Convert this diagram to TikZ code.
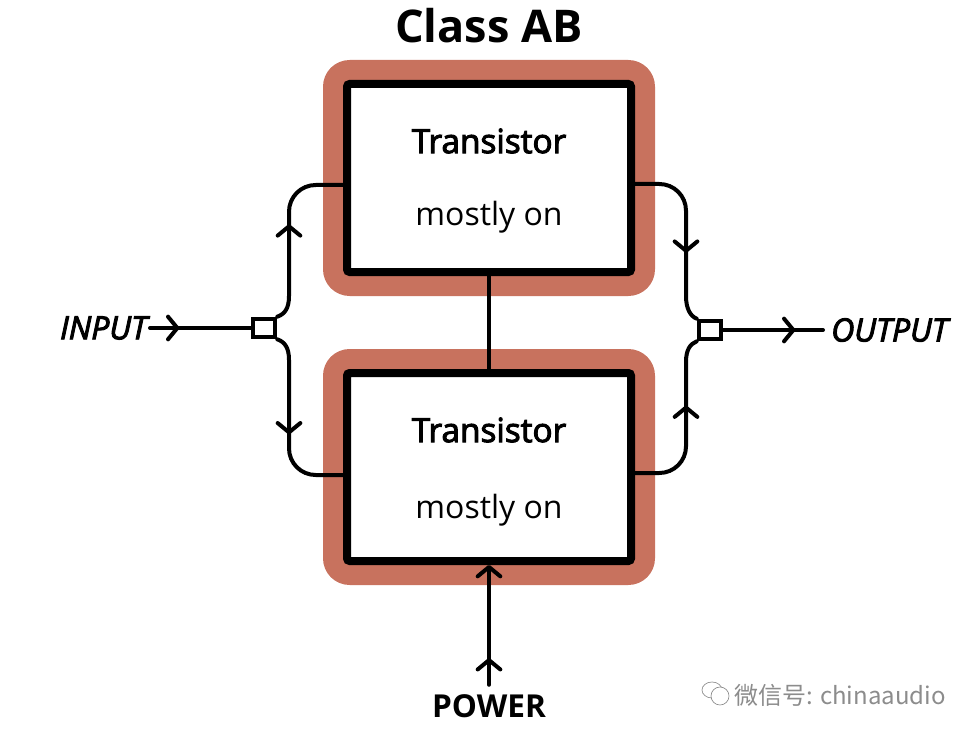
\documentclass[tikz,border=0pt]{standalone}
\usepackage{fontspec}
\setmainfont{Open Sans}
\newfontfamily\cjkfont{Noto Sans CJK SC}
\newfontfamily\semifont[FakeBold=3]{Open Sans}
\usetikzlibrary{arrows.meta,decorations.markings}
\definecolor{brick}{HTML}{C8725E}
\tikzset{
  glow/.style={fill=brick,minimum width=249pt,minimum height=177pt,rounded corners=20pt},
  ampbox/.style={draw,fill=white,line width=6pt,minimum width=213pt,minimum height=141pt,rounded corners=2pt},
  wire/.style={line width=3pt,line cap=round},
  tipat/.style={postaction={decorate,decoration={markings,mark=at position #1 with {\arrow{>}}}}},
  joint/.style={draw,fill=white,line width=3pt,minimum width=17pt,minimum height=14pt,inner sep=0pt},
  >={Straight Barb[length=7pt,width=17pt,round]},
  boxtitle/.style={font=\fontsize{25}{25}\semifont},
  boxtext/.style={font=\fontsize{24}{24}\selectfont},
  portname/.style={font=\fontsize{24}{24}\semifont\itshape,inner sep=0pt},
}
\begin{document}
\begin{tikzpicture}[x=.75pt,y=-.75pt]
\useasboundingbox (0,0) rectangle (978,738);

\node[font=\fontsize{33.8}{34}\selectfont\bfseries] (title) at (489,26) {Class AB};

\node[glow] (topglow) at (489,178) {};
\node[glow] (lowglow) at (489,467) {};
\node[ampbox] (topbox) at (489,178) {};
\node[ampbox] (lowbox) at (489,467) {};

\node[boxtitle] (toptitle) at (489,141) {Transistor};
\node[boxtext] (toptext) at (489,217) {mostly on};
\node[boxtitle] (lowtitle) at (489,430) {Transistor};
\node[boxtext] (lowtext) at (489,510) {mostly on};

\node[portname,anchor=east,inner xsep=2pt] (inputlabel) at (150,328) {INPUT};
\node[portname,anchor=west,inner xsep=6pt] (outputlabel) at (823,330) {OUTPUT};
\node[font=\fontsize{23.7}{24}\selectfont\bfseries,inner xsep=0pt,inner ysep=7pt] (powerlabel) at (489,706) {POWER};

\node[joint] (inbox) at (264,328) {};
\node[joint] (outbox) at (710,330) {};

\coordinate (topin) at (344,185);
\coordinate (lowin) at (344,475);
\coordinate (topout) at (634,184);
\coordinate (lowout) at (634,473);

\draw[wire] (topbox) -- (lowbox);
\draw[wire,tipat=22pt] (inputlabel) -- (inbox);
\draw[wire,tipat=54pt] (outbox) -- (outputlabel);
\draw[wire,tipat=20pt,->] (powerlabel) -- (lowbox);

\draw[wire,tipat=73pt] (inbox.north east) .. controls (285,314) and (289,308) .. (289,296) [rounded corners=20pt] -- (289,185) -- (topin);
\draw[wire,tipat=75pt] (inbox.south east) .. controls (285,342) and (289,348) .. (289,360) [rounded corners=20pt] -- (289,475) -- (lowin);
\draw[wire,tipat=82pt,rounded corners=20pt] (topout) -- (686,184) [sharp corners] -- (686,296) .. controls (686,308) and (690,316) .. (outbox.north west);
\draw[wire,tipat=81pt,rounded corners=20pt] (lowout) -- (686,473) [sharp corners] -- (686,362) .. controls (686,350) and (690,344) .. (outbox.south west);

\node[text=black!45,font=\fontsize{18}{18}\cjkfont,inner sep=0pt] (mark) at (840,695) {微信号: chinaaudio};
\draw[black!45,line width=.5pt] (712,690) ellipse (10 and 8);
\draw[black!45,line width=.5pt,fill=white] (720,696) ellipse (9 and 9);
\end{tikzpicture}
\end{document}
